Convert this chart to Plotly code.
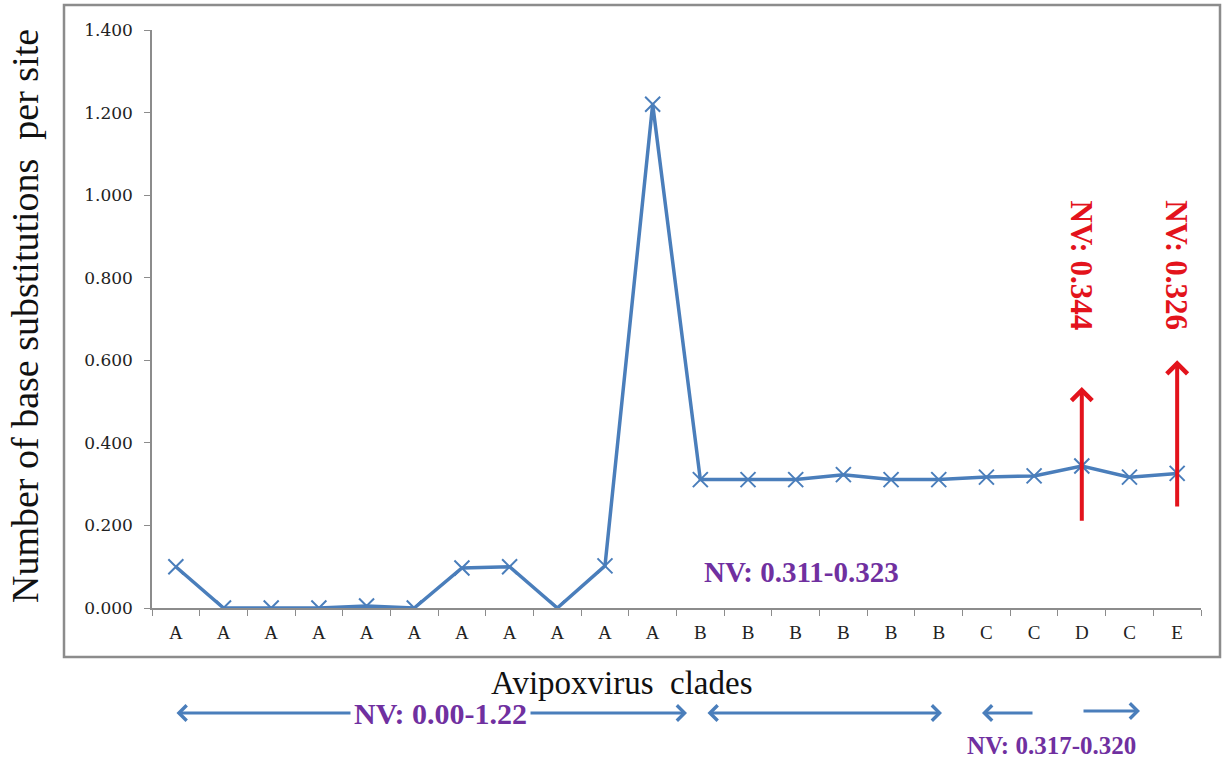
import plotly.graph_objects as go

# ---- data ----
clades = ["A", "A", "A", "A", "A", "A", "A", "A", "A", "A", "A",
          "B", "B", "B", "B", "B", "B", "C", "C", "D", "C", "E"]
values = [0.100, 0.000, 0.000, 0.000, 0.005, 0.000, 0.097, 0.100, 0.000, 0.102, 1.220,
          0.311, 0.311, 0.311, 0.323, 0.311, 0.311, 0.317, 0.320, 0.344, 0.317, 0.326]
y_ticks = [0.0, 0.2, 0.4, 0.6, 0.8, 1.0, 1.2, 1.4]
y_tick_text = ["0.000", "0.200", "0.400", "0.600", "0.800", "1.000", "1.200", "1.400"]

# red callouts: (category index, arrow start value, arrow end value, label)
red_callouts = [(19, 0.208, 0.535, "NV: 0.344"), (21, 0.242, 0.600, "NV: 0.326")]
red_label_y = 0.83

positions = list(range(len(clades)))

W, H = 1227, 765
L, R, T, B = 152, 1201, 30, 608  # plot area in pixels


def px(xp):
    return (xp - L) / (R - L)


def py(yp):
    return (B - yp) / (B - T)


BLUE = "#4A7EBB"
PURPLE = "#7030A0"
RED = "#E3131C"
GREY = "#8C8C8C"
SERIF = "Liberation Serif, Times New Roman, serif"
TICKFONT = "Georgia, DejaVu Serif, serif"

fig = go.Figure()
fig.add_trace(go.Scatter(
    x=positions, y=values, mode="lines+markers",
    line=dict(color=BLUE, width=3.5),
    marker=dict(symbol="x-thin", size=15, line=dict(color=BLUE, width=2)),
    showlegend=False, hoverinfo="y",
))

annotations = []

# red arrows and rotated labels
for idx, y0, y1, label in red_callouts:
    annotations.append(dict(
        x=idx, y=y1, xref="x", yref="y", ax=idx, ay=y0, axref="x", ayref="y",
        text="", showarrow=True, arrowhead=4, arrowsize=1.0, arrowwidth=4,
        arrowcolor=RED,
    ))
    annotations.append(dict(
        x=idx, y=red_label_y, xref="x", yref="y", text="<b>" + label + "</b>",
        showarrow=False, textangle=90, xanchor="center", yanchor="middle",
        font=dict(family=SERIF, size=31, color=RED),
    ))


def label(xp, yp, text, size, color, angle=0, bg=None):
    d = dict(
        x=px(xp), y=py(yp), xref="paper", yref="paper", text=text,
        showarrow=False, xanchor="center", yanchor="middle", textangle=angle,
        font=dict(family=SERIF, size=size, color=color),
    )
    if bg:
        d["bgcolor"] = bg
        d["borderpad"] = 3
    return d


# purple label inside plot
annotations.append(label(801, 572, "<b>NV: 0.311-0.323</b>", 29, PURPLE))


# bottom blue arrows (head px, head py, tail px, tail py, double?)
def arrow(hx, hy, tx, ty, double=False):
    d = dict(
        x=px(hx), y=py(hy), xref="paper", yref="paper",
        ax=tx - hx, ay=ty - hy, axref="pixel", ayref="pixel",
        text="", showarrow=True, arrowhead=4, arrowsize=1.0, arrowwidth=3,
        arrowcolor=BLUE,
    )
    if double:
        d["arrowside"] = "end+start"
        d["startarrowhead"] = 4
        d["startarrowsize"] = 1.0
    return d


annotations.append(arrow(687, 713, 175, 713, double=True))
annotations.append(arrow(942, 713, 706, 713, double=True))
annotations.append(arrow(982, 713, 1034, 713))
annotations.append(arrow(1140, 711, 1082, 711))

annotations.append(label(440, 713, "<b>NV: 0.00-1.22</b>", 30, PURPLE, bg="white"))
annotations.append(label(1051, 746, "<b>NV: 0.317-0.320</b>", 25, PURPLE))

# axis titles as annotations
annotations.append(label(622, 683, "Avipoxvirus  clades", 33, "#111"))
annotations.append(label(25, 316, "Number of base substitutions  per site", 38, "#111",
                         angle=-90))

shapes = [dict(
    type="rect", xref="paper", yref="paper",
    x0=px(64), x1=px(1220), y0=py(657), y1=py(5),
    line=dict(color=GREY, width=2.5), fillcolor="rgba(0,0,0,0)", layer="below",
)]

fig.update_layout(
    width=W, height=H,
    margin=dict(l=L, r=W - R, t=T, b=H - B, autoexpand=False),
    paper_bgcolor="white", plot_bgcolor="white",
    annotations=annotations, shapes=shapes,
    xaxis=dict(
        range=[-0.5, len(clades) - 0.5], tickmode="array", tickvals=positions,
        ticktext=clades, ticks="", showgrid=False, zeroline=False,
        showline=True, linecolor=GREY, linewidth=1.5,
        tickfont=dict(family=SERIF, size=19, color="#222"),
        minor=dict(ticks="outside", ticklen=6, tickcolor=GREY, tick0=0.5, dtick=1,
                   showgrid=False),
        ticklabelstandoff=6,
    ),
    yaxis=dict(
        range=[0, 1.4], tickmode="array", tickvals=y_ticks, ticktext=y_tick_text,
        ticks="outside", ticklen=6, tickcolor=GREY, showgrid=False, zeroline=False,
        showline=True, linecolor=GREY, linewidth=1.5,
        tickfont=dict(family=TICKFONT, size=17, color="#222"),
        ticklabelstandoff=8,
    ),
)

fig.write_html("out.html", config={"displayModeBar": False},
               post_script="document.body.style.margin='0px';"
                           "document.body.style.overflow='hidden';")
